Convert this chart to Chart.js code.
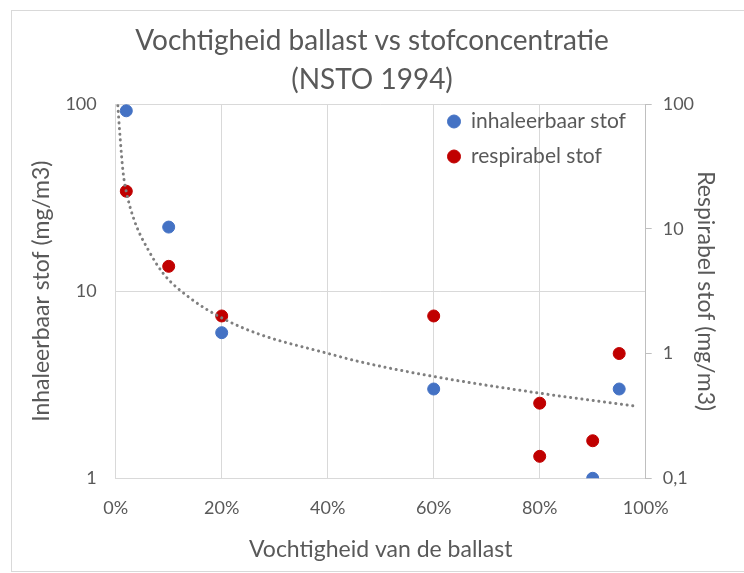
<!DOCTYPE html>
<html>
<head>
<meta charset="utf-8">
<script src="https://cdn.jsdelivr.net/npm/chart.js@4.4.1/dist/chart.umd.min.js"></script>
<style>
  html, body { margin: 0; padding: 0; background: #ffffff; }
  #wrap { position: relative; width: 744px; height: 573px; overflow: hidden; }
  #frame { position: absolute; left: 11px; top: 10px; width: 745px; height: 560px; border: 1px solid #d9d9d9; pointer-events: none; }
</style>
</head>
<body>
<div id="wrap">
  <canvas id="c" width="744" height="573"></canvas>
  <div id="frame"></div>
</div>
<script>
// ---- data ----
const titleLines = ['Vochtigheid ballast vs stofconcentratie', '(NSTO 1994)'];
const seriesNames = ['inhaleerbaar stof', 'respirabel stof'];
const xTitle = 'Vochtigheid van de ballast';
const yLeftTitle = 'Inhaleerbaar stof (mg/m3)';
const yRightTitle = 'Respirabel stof (mg/m3)';

const moistureInh = [2, 10, 20, 60, 90, 95];          // % moisture
const inhaleerbaar = [92, 22, 6, 3, 1, 3];            // mg/m3 (left axis)
const moistureResp = [2, 10, 20, 60, 80, 80, 90, 95]; // % moisture
const respirabel = [20, 5, 2, 2, 0.4, 0.15, 0.2, 1];  // mg/m3 (right axis)

// dotted trendline, points (left axis)
const trendX = [0.4, 0.8, 1.4, 2, 3.6, 6, 9, 14, 20, 27, 40, 46, 60, 80, 98];
const trendY = [98, 68, 43, 34, 23.5, 16.9, 12.4, 9.2, 7.2, 5.9, 4.65, 4.2, 3.5, 2.85, 2.43];

const xTickValues = [0, 20, 40, 60, 80, 100];
const xTickLabels = ['0%', '20%', '40%', '60%', '80%', '100%'];
const yLeftTickValues = [1, 10, 100];
const yLeftTickLabels = ['1', '10', '100'];
const yRightTickValues = [0.1, 1, 10, 100];
const yRightTickLabels = ['0,1', '1', '10', '100'];

// ---- chart ----
const FONT = 'Lato';
const TXT = '#595959';
const GRID = '#d9d9d9';

const toPts = (xs, ys) => xs.map((x, i) => ({ x: x, y: ys[i] }));
const labelFor = (vals, labels) => (v) => {
  const i = vals.findIndex(t => Math.abs(t - v) < 1e-9);
  return i >= 0 ? labels[i] : '';
};

const legendPlace = {
  id: 'legendPlace',
  afterLayout(chart) {
    const lg = chart.legend;
    if (!lg) return;
    const w = lg.width, h = lg.height;
    lg.left = 433.5; lg.top = 97;
    lg.right = lg.left + w; lg.bottom = lg.top + h;
  }
};

new Chart(document.getElementById('c'), {
  type: 'scatter',
  data: {
    datasets: [
      {
        label: seriesNames[0],
        data: toPts(moistureInh, inhaleerbaar),
        yAxisID: 'y',
        backgroundColor: '#4472C4',
        borderColor: '#4472C4',
        borderWidth: 1,
        pointRadius: 6,
        pointHoverRadius: 6,
        order: 2
      },
      {
        label: seriesNames[1],
        data: toPts(moistureResp, respirabel),
        yAxisID: 'y2',
        backgroundColor: '#C00000',
        borderColor: '#C00000',
        borderWidth: 1,
        pointRadius: 6,
        pointHoverRadius: 6,
        order: 1
      },
      {
        label: 'trend',
        type: 'line',
        data: toPts(trendX, trendY),
        yAxisID: 'y',
        showLine: true,
        fill: false,
        pointRadius: 0,
        borderColor: '#7f7f7f',
        borderWidth: 3,
        borderDash: [0.1, 5.6],
        borderCapStyle: 'round',
        cubicInterpolationMode: 'monotone',
        order: 0
      }
    ]
  },
  options: {
    responsive: false,
    devicePixelRatio: 1,
    animation: false,
    layout: { padding: 0 },
    plugins: {
      title: {
        display: true,
        text: titleLines,
        color: TXT,
        font: { family: FONT, size: 28, weight: 'normal', lineHeight: 1.393 },
        padding: { top: 21.5, bottom: 4.5 }
      },
      legend: {
        display: true,
        position: 'chartArea',
        align: 'start',
        labels: {
          filter: (item) => item.datasetIndex < 2,
          sort: (a, b) => a.datasetIndex - b.datasetIndex,
          usePointStyle: true,
          pointStyle: 'circle',
          pointStyleWidth: 13,
          boxWidth: 13,
          boxHeight: 9.2,
          padding: 14,
          color: TXT,
          font: { family: FONT, size: 21 }
        }
      },
      tooltip: { enabled: false }
    },
    scales: {
      x: {
        type: 'linear',
        position: 'bottom',
        min: 0,
        max: 100,
        afterBuildTicks: (axis) => { axis.ticks = xTickValues.map(v => ({ value: v })); },
        afterFit: (axis) => { axis.height = 94.7; },
        ticks: {
          callback: labelFor(xTickValues, xTickLabels),
          color: TXT,
          font: { family: FONT, size: 18 },
          padding: 19,
          maxRotation: 0
        },
        grid: { color: GRID, lineWidth: 1, drawTicks: false },
        border: { color: GRID, width: 1 },
        title: {
          display: true,
          text: xTitle,
          color: TXT,
          font: { family: FONT, size: 23 },
          padding: { top: 0, bottom: 10 }
        }
      },
      y: {
        type: 'logarithmic',
        position: 'left',
        min: 1,
        max: 100,
        afterBuildTicks: (axis) => { axis.ticks = yLeftTickValues.map(v => ({ value: v, major: true })); },
        afterFit: (axis) => { axis.width = 115.7; },
        ticks: {
          callback: labelFor(yLeftTickValues, yLeftTickLabels),
          color: TXT,
          font: { family: FONT, size: 18 },
          padding: 19
        },
        grid: { color: GRID, lineWidth: 1, drawTicks: false },
        border: { color: GRID, width: 1 },
        title: {
          display: true,
          text: yLeftTitle,
          color: TXT,
          font: { family: FONT, size: 23 },
          padding: { top: 28, bottom: 0 }
        }
      },
      y2: {
        type: 'logarithmic',
        position: 'right',
        min: 0.1,
        max: 100,
        afterBuildTicks: (axis) => { axis.ticks = yRightTickValues.map(v => ({ value: v, major: true })); },
        afterFit: (axis) => { axis.width = 98.3; },
        ticks: {
          callback: labelFor(yRightTickValues, yRightTickLabels),
          color: TXT,
          font: { family: FONT, size: 18 },
          padding: 11
        },
        grid: { drawOnChartArea: false, drawTicks: true, tickLength: 6, color: '#bfbfbf' },
        border: { display: true, color: '#bfbfbf', width: 1 },
        title: {
          display: true,
          text: yRightTitle,
          color: TXT,
          font: { family: FONT, size: 23 },
          padding: { top: 25, bottom: 0 }
        }
      }
    }
  },
  plugins: [legendPlace]
});
</script>
</body>
</html>
